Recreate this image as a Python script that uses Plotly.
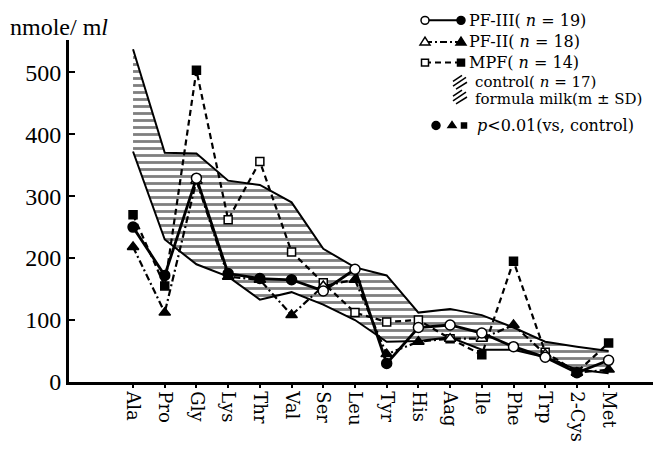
import plotly.graph_objects as go

amino = ["Ala", "Pro", "Gly", "Lys", "Thr", "Val", "Ser", "Leu", "Tyr", "His",
         "Aag", "Ile", "Phe", "Trp", "2-Cys", "Met"]

control_upper = [537, 370, 369, 325, 318, 290, 215, 185, 172, 112, 118, 108, 88, 65, 57, 50]
control_lower = [372, 230, 190, 170, 133, 145, 125, 100, 65, 66, 72, 52, 52, 40, 20, 14]

pf3 = [250, 172, 329, 175, 167, 165, 147, 182, 30, 88, 92, 79, 57, 40, 15, 35]
pf3_sig = [1, 1, 0, 1, 1, 1, 0, 0, 1, 0, 0, 0, 0, 0, 1, 0]

pf2 = [218, 112, 325, 170, 165, 108, 155, 165, 45, 65, 70, 70, 92, 45, 15, 20]
pf2_sig = [1, 1, 0, 1, 1, 1, 0, 1, 1, 1, 0, 0, 1, 0, 1, 1]

mpf = [270, 155, 503, 262, 356, 210, 160, 112, 97, 100, 70, 44, 195, 48, 16, 63]
mpf_sig = [1, 1, 1, 0, 0, 0, 0, 0, 0, 0, 0, 1, 1, 0, 1, 1]

y_ticks = [0, 100, 200, 300, 400, 500]

SERIF = "Liberation Serif"
WIDE = "DejaVu Serif"

fig = go.Figure()

# control band (hatched)
fig.add_trace(go.Scatter(x=amino, y=control_lower, mode="lines",
                         line=dict(color="black", width=2), showlegend=False,
                         hoverinfo="skip"))
fig.add_trace(go.Scatter(x=amino, y=control_upper, mode="lines",
                         line=dict(color="black", width=2), fill="tonexty",
                         fillcolor="white",
                         fillpattern=dict(shape="-", size=7, solidity=0.4,
                                          fgcolor="black", bgcolor="white"),
                         showlegend=False, hoverinfo="skip"))


def cols(sig):
    return ["black" if s else "white" for s in sig]


fig.add_trace(go.Scatter(x=amino, y=mpf, mode="lines+markers", name="MPF",
                         line=dict(color="black", width=2.2, dash="6px,4px"),
                         marker=dict(symbol="square", size=8, color=cols(mpf_sig),
                                     line=dict(color="black", width=1.5)),
                         showlegend=False))
fig.add_trace(go.Scatter(x=amino, y=pf2, mode="lines+markers", name="PF-II",
                         line=dict(color="black", width=2.2, dash="7px,3px,2px,3px"),
                         marker=dict(symbol="triangle-up", size=10, color=cols(pf2_sig),
                                     line=dict(color="black", width=1.5)),
                         showlegend=False))
fig.add_trace(go.Scatter(x=amino, y=pf3, mode="lines+markers", name="PF-III",
                         line=dict(color="black", width=2.8),
                         marker=dict(symbol="circle", size=10, color=cols(pf3_sig),
                                     line=dict(color="black", width=1.5)),
                         showlegend=False))

# ---- layout ----
L, R, T, B = 69, 653, 40, 388
W, H = 668, 454


def px(x):
    return (x - L) / (R - L)


def py(y):
    return (B - y) / (B - T)


shapes = []
annotations = []

rows = [
    (20, "solid", "circle", "PF-III( <i>n</i> = 19)"),
    (42, "7px,3px,2px,3px", "triangle", "PF-II( <i>n</i> = 18)"),
    (63, "6px,4px", "square", "MPF( <i>n</i> = 14)"),
]


def marker_shape(cx, cy, kind, filled, r=4):
    fill = "black" if filled else "white"
    if kind == "circle":
        return dict(type="circle", xref="paper", yref="paper",
                    x0=px(cx - r), x1=px(cx + r), y0=py(cy + r), y1=py(cy - r),
                    line=dict(color="black", width=1.5), fillcolor=fill, layer="above")
    if kind == "square":
        return dict(type="rect", xref="paper", yref="paper",
                    x0=px(cx - r + 0.5), x1=px(cx + r - 0.5), y0=py(cy + r - 0.5), y1=py(cy - r + 0.5),
                    line=dict(color="black", width=1.5), fillcolor=fill, layer="above")
    path = "M {:.5f} {:.5f} L {:.5f} {:.5f} L {:.5f} {:.5f} Z".format(
        px(cx), py(cy - r - 1), px(cx - r - 1), py(cy + r - 1), px(cx + r + 1), py(cy + r - 1))
    return dict(type="path", xref="paper", yref="paper", path=path,
                line=dict(color="black", width=1.5), fillcolor=fill, layer="above")


for yy, dash, kind, label in rows:
    shapes.append(dict(type="line", xref="paper", yref="paper",
                       x0=px(425), x1=px(461), y0=py(yy), y1=py(yy),
                       line=dict(color="black", width=2, dash=dash)))
    shapes.append(marker_shape(425, yy, kind, False))
    shapes.append(marker_shape(461, yy, kind, True))
    annotations.append(dict(xref="paper", yref="paper", x=px(467), y=py(yy),
                            xanchor="left", yanchor="middle", showarrow=False,
                            text=label, font=dict(family=WIDE, size=16, color="black")))

# hatch icon
for (x0, y0, x1, y1) in [(453, 82, 462, 76), (453, 87, 466, 78), (456, 90, 467, 83),
                         (453, 97, 462, 91), (453, 102, 466, 93), (456, 105, 467, 98)]:
    shapes.append(dict(type="line", xref="paper", yref="paper",
                       x0=px(x0), x1=px(x1), y0=py(y0), y1=py(y1),
                       line=dict(color="black", width=1.5)))
annotations.append(dict(xref="paper", yref="paper", x=px(473), y=py(83),
                        xanchor="left", yanchor="middle", showarrow=False,
                        text="control( <i>n</i> = 17)", font=dict(family=WIDE, size=15, color="black")))
annotations.append(dict(xref="paper", yref="paper", x=px(473), y=py(100),
                        xanchor="left", yanchor="middle", showarrow=False,
                        text="formula milk(m ± SD)", font=dict(family=WIDE, size=15, color="black")))

# significance row
shapes.append(marker_shape(436, 127, "circle", True, r=4))
shapes.append(marker_shape(452, 127, "triangle", True, r=3))
shapes.append(marker_shape(464, 127, "square", True, r=3))
annotations.append(dict(xref="paper", yref="paper", x=px(475), y=py(127),
                        xanchor="left", yanchor="middle", showarrow=False,
                        text="<i>p</i><0.01(vs, control)", font=dict(family=WIDE, size=16, color="black")))

# y-axis unit
annotations.append(dict(xref="paper", yref="paper", x=px(8), y=py(27),
                        xanchor="left", yanchor="middle", showarrow=False,
                        text="nmole/ m<i>l</i>", font=dict(family=SERIF, size=24, color="black")))

fig.update_layout(
    width=W, height=H,
    margin=dict(l=L, r=W - R, t=T, b=H - B, pad=0),
    paper_bgcolor="white", plot_bgcolor="white",
    showlegend=False,
    shapes=shapes, annotations=annotations,
    xaxis=dict(type="category", range=[-2.02, 16.4], showgrid=False, zeroline=False,
               showline=True, linecolor="black", linewidth=2.5,
               ticks="outside", ticklen=3, tickwidth=2, tickcolor="black",
               tickangle=90, tickfont=dict(family=WIDE, size=18, color="black")),
    yaxis=dict(range=[0, 552], tickvals=y_ticks, showgrid=False, zeroline=False,
               showline=True, linecolor="black", linewidth=3,
               ticks="inside", ticklen=6, tickwidth=2, tickcolor="black",
               tickfont=dict(family=SERIF, size=24, color="black")),
)

fig.write_html("out.html")
